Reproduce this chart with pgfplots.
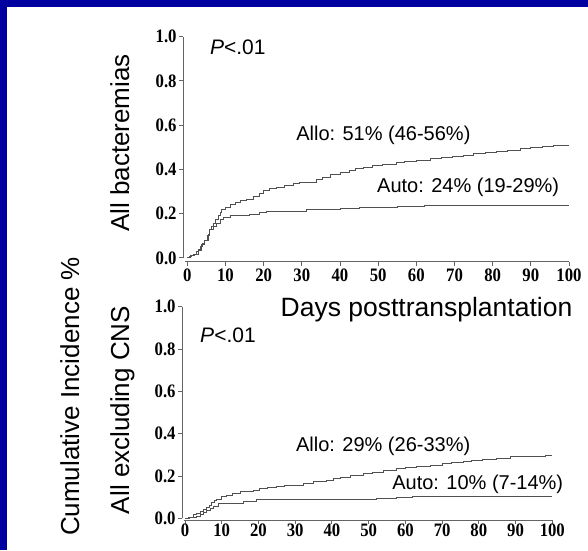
\documentclass[border=0pt]{standalone}
\usepackage{fontspec}
\setmainfont{Liberation Sans}
\newfontfamily\tnr[FakeStretch=0.88]{Liberation Serif}
\usepackage{pgfplots}
\pgfplotsset{compat=1.18}
\definecolor{slideblue}{RGB}{0,0,160}
\definecolor{curve}{RGB}{80,80,80}
\definecolor{axisgray}{RGB}{100,100,100}

% cumulative incidence
\pgfplotstableread{
d v
0 0
0.6 0.005
1.2 0.009
1.8 0.018
2.5 0.029
3.0 0.040
3.4 0.051
4.0 0.065
4.6 0.081
5.2 0.100
5.9 0.127
6.3 0.142
6.8 0.157
7.4 0.175
8.1 0.194
8.6 0.207
9.0 0.217
9.9 0.229
11.2 0.240
12.5 0.250
13.8 0.258
15.5 0.266
17.3 0.277
19.0 0.292
19.9 0.307
21.5 0.312
23.4 0.319
25.5 0.327
27.8 0.337
29.5 0.340
31.3 0.342
33.9 0.356
35.5 0.365
37.4 0.375
40.0 0.385
42.5 0.395
44.0 0.403
46.1 0.410
48.5 0.418
51.0 0.424
54.9 0.432
57.0 0.437
60.0 0.442
63.6 0.450
66.5 0.455
69.5 0.460
72.3 0.465
75.0 0.470
78.0 0.475
81.1 0.480
84.0 0.487
87.2 0.496
90.0 0.500
93.0 0.503
96.0 0.507
99.0 0.510
100 0.510
}\alloall
\pgfplotstableread{
d v
0 0
0.8 0.009
1.6 0.018
2.9 0.036
3.8 0.059
4.6 0.081
5.5 0.104
5.9 0.127
6.8 0.142
7.7 0.157
8.6 0.175
9.4 0.184
11.2 0.190
13.8 0.194
16.4 0.197
19.0 0.206
20.8 0.209
24.0 0.211
27.8 0.212
31.3 0.217
36.5 0.221
40.0 0.223
45.0 0.228
50.0 0.230
55.0 0.233
62.0 0.238
68.0 0.238
100 0.238
}\autoall
\pgfplotstableread{
d v
0 0
1.0 0.006
2.3 0.016
3.2 0.024
4.1 0.031
5.0 0.041
5.9 0.052
6.6 0.063
7.3 0.074
8.0 0.083
8.6 0.090
10.0 0.101
11.4 0.110
13.0 0.119
15.0 0.126
18.6 0.130
20.4 0.142
22.5 0.146
25.0 0.149
27.0 0.153
29.5 0.157
32.2 0.165
35.0 0.173
38.6 0.181
40.5 0.187
42.2 0.192
45.0 0.203
48.5 0.213
51.0 0.218
54.0 0.226
57.6 0.236
60.0 0.240
63.0 0.246
66.7 0.252
70.0 0.258
72.5 0.263
75.8 0.268
78.0 0.272
81.0 0.276
84.9 0.283
88.5 0.291
92.0 0.292
95.0 0.294
98.0 0.297
100 0.297
}\alloexcl
\pgfplotstableread{
d v
0 0
1.2 0.003
2.3 0.005
3.2 0.011
4.1 0.018
5.0 0.027
5.9 0.037
6.8 0.048
7.7 0.058
9.1 0.068
12.3 0.071
15.9 0.079
19.5 0.087
30.0 0.087
42.2 0.087
48.5 0.091
52.0 0.094
57.6 0.099
62.0 0.102
66.7 0.105
100 0.105
}\autoexcl

\newcommand\tickfont{\tnr\bfseries\fontsize{19}{19}\selectfont}
\pgfplotsset{
  kmaxis/.style={
    scale only axis,
    axis lines*=left,
    axis line style={draw=none},
    tick align=outside,
    major tick length=4pt,
    tick style={axisgray, line width=0.9pt},
    ymax=1, xmax=100,
    xtick={0,10,...,100},
    ytick={0,0.2,...,1},
    xticklabel={\tickfont\pgfmathprintnumber[assume math mode=true]{\tick}},
    yticklabel={\tickfont\pgfmathprintnumber[assume math mode=true, fixed, fixed zerofill, precision=1]{\tick}},
    tick label style={text=black},
    yticklabel style={inner sep=2.5pt},
    clip=false,
  },
  kmline/.style={const plot, no marks, curve, line width=0.9pt},
}
\tikzset{note/.style={font=\fontsize{20}{20}\selectfont, anchor=base west, inner sep=0pt}}

\begin{document}
\begin{tikzpicture}
\fill[slideblue] (0,0) rectangle (588pt,550pt);
\fill[white] (7pt,0) rectangle (588pt,543pt);

% top panel: all bacteremias
\begin{axis}[kmaxis,
  at={(183.3pt,288.3pt)}, anchor=south west,
  width=385.7pt, height=225.1pt,
  xmin=-1.05, ymin=-0.017]
\addplot[kmline] table[x=d,y=v] {\alloall};
\addplot[kmline] table[x=d,y=v] {\autoall};
\draw[axisgray, line width=1pt] (axis cs:-1.05,0) -- (axis cs:-1.05,1);
\draw[axisgray, line width=1pt] (axis cs:-0.5,-0.017) -- (axis cs:100,-0.017);
\node[note, font=\fontsize{21}{21}\selectfont] at (axis cs:5.9,0.92) {\textit{P}<.01};
\node[note] at (axis cs:28.5,0.529) {Allo: 51\% (46-56\%)};
\node[note] at (axis cs:49.7,0.296) {Auto: 24\% (19-29\%)};
\end{axis}

% bottom panel: all excluding CNS
\begin{axis}[kmaxis,
  at={(182.3pt,30pt)}, anchor=south west,
  width=370pt, height=213.3pt,
  xmin=-0.73, ymin=-0.008,
  xticklabel style={yshift=3.5pt}]
\addplot[kmline] table[x=d,y=v] {\alloexcl};
\addplot[kmline] table[x=d,y=v] {\autoexcl};
\draw[axisgray, line width=1pt] (axis cs:-0.73,0) -- (axis cs:-0.73,1);
\draw[axisgray, line width=1pt] (axis cs:-0.4,-0.008) -- (axis cs:100,-0.008);
\node[note, font=\fontsize{21}{21}\selectfont] at (axis cs:4.1,0.829) {\textit{P}<.01};
\node[note] at (axis cs:30.2,0.318) {Allo: 29\% (26-33\%)};
\node[note] at (axis cs:56.4,0.138) {Auto: 10\% (7-14\%)};
\end{axis}

\node[font=\fontsize{26.5}{26.5}\selectfont, anchor=base] at (426.5pt,233.3pt) {Days posttransplantation};
\node[font=\fontsize{26}{26}\selectfont, anchor=base, rotate=90] at (79pt,153.5pt) {Cumulative Incidence \%};
\node[font=\fontsize{26}{26}\selectfont, anchor=base, rotate=90] at (129pt,407pt) {All bacteremias};
\node[font=\fontsize{26}{26}\selectfont, anchor=base, rotate=90] at (129pt,140pt) {All excluding CNS};

\pgfresetboundingbox
\path (0,0) rectangle (588pt,550pt);
\end{tikzpicture}
\end{document}
